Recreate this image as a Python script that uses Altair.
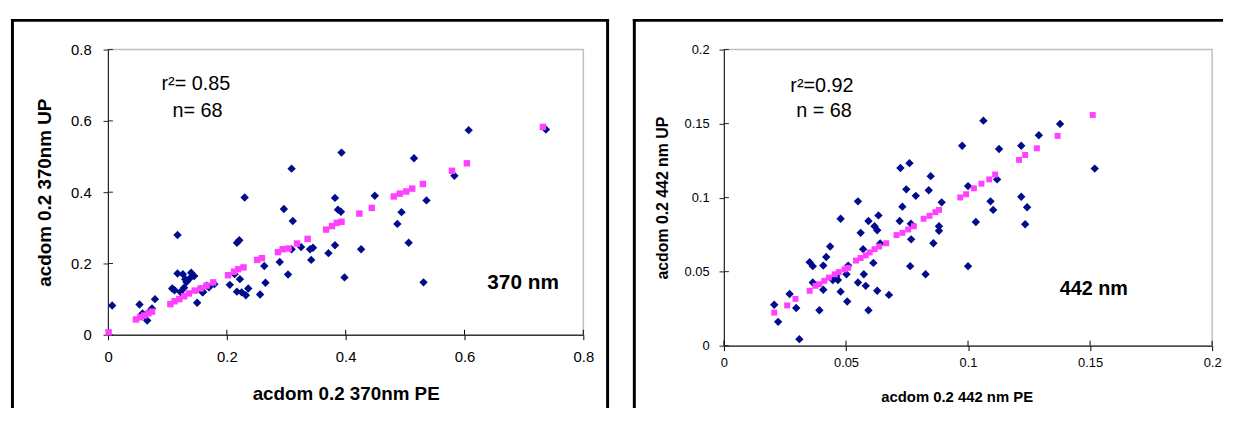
import altair as alt
import pandas as pd

FONT = "Liberation Sans, Arial, sans-serif"

# ---------------- 370 nm panel ----------------
pe370_obs = [0.007, 0.053, 0.061, 0.066, 0.074, 0.079, 0.108, 0.117, 0.117, 0.126,
             0.140, 0.137, 0.132, 0.122, 0.130, 0.150, 0.159, 0.166, 0.179, 0.205,
             0.217, 0.221, 0.222, 0.217, 0.225, 0.230, 0.232, 0.236, 0.256, 0.263,
             0.265, 0.289, 0.296, 0.303, 0.309, 0.311, 0.309, 0.325, 0.340, 0.342,
             0.371, 0.382, 0.382, 0.387, 0.392, 0.393, 0.398, 0.426, 0.449, 0.487,
             0.494, 0.506, 0.515, 0.531, 0.536, 0.583, 0.607, 0.737,
             0.112, 0.145, 0.155, 0.170, 0.160, 0.128, 0.070, 0.058, 0.213, 0.345]
up370_obs = [0.082, 0.085, 0.054, 0.040, 0.074, 0.100, 0.130, 0.280, 0.172, 0.170,
             0.174, 0.157, 0.148, 0.120, 0.156, 0.090, 0.119, 0.138, 0.142, 0.140,
             0.258, 0.265, 0.156, 0.121, 0.119, 0.385, 0.111, 0.130, 0.113, 0.193,
             0.146, 0.204, 0.353, 0.169, 0.466, 0.319, 0.240, 0.246, 0.240, 0.210,
             0.229, 0.384, 0.251, 0.351, 0.345, 0.511, 0.161, 0.240, 0.390, 0.311,
             0.344, 0.258, 0.495, 0.147, 0.377, 0.446, 0.574, 0.576,
             0.125, 0.165, 0.128, 0.133, 0.120, 0.132, 0.065, 0.060, 0.170, 0.244]
pe370_fit = [0.001, 0.047, 0.054, 0.061, 0.068, 0.074, 0.105, 0.112, 0.120, 0.128,
             0.136, 0.146, 0.156, 0.166, 0.177, 0.202, 0.212, 0.219, 0.228, 0.251,
             0.259, 0.286, 0.294, 0.304, 0.318, 0.336, 0.367, 0.377, 0.385, 0.393,
             0.423, 0.444, 0.481, 0.491, 0.502, 0.512, 0.530, 0.579, 0.604, 0.732]
up370_fit = [0.007, 0.043, 0.049, 0.054, 0.060, 0.065, 0.086, 0.094, 0.100, 0.108,
             0.116, 0.124, 0.130, 0.138, 0.147, 0.167, 0.177, 0.184, 0.189, 0.210,
             0.215, 0.232, 0.240, 0.242, 0.256, 0.269, 0.295, 0.305, 0.314, 0.317,
             0.340, 0.356, 0.388, 0.396, 0.402, 0.410, 0.423, 0.460, 0.481, 0.583]
ticks370 = [0, 0.2, 0.4, 0.6, 0.8]

# ---------------- 442 nm panel ----------------
pe442_obs = [0.0206, 0.0222, 0.0269, 0.0296, 0.0309, 0.0351, 0.0364, 0.0364, 0.0391, 0.0407,
             0.0407, 0.0419, 0.0435, 0.0446, 0.0467, 0.0478, 0.0478, 0.0502, 0.0505, 0.0509,
             0.0549, 0.0549, 0.0560, 0.0570, 0.0573, 0.0581, 0.0592, 0.0592, 0.0612, 0.0617,
             0.0628, 0.0628, 0.0633, 0.0676, 0.0720, 0.0723, 0.0731, 0.0747, 0.0760, 0.0763,
             0.0766, 0.0767, 0.0786, 0.0826, 0.0839, 0.0847, 0.0858, 0.0881, 0.0881, 0.0892,
             0.0976, 0.1000, 0.1000, 0.1032, 0.1063, 0.1092, 0.1103, 0.1119, 0.1127, 0.1218,
             0.1218, 0.1234, 0.1242, 0.1290, 0.1377, 0.1519, 0.0640, 0.0460]
up442_obs = [0.0276, 0.0161, 0.0349, 0.0254, 0.0044, 0.0564, 0.0537, 0.0427, 0.0239, 0.0541,
             0.0378, 0.0599, 0.0670, 0.0444, 0.0444, 0.0857, 0.0365, 0.0482, 0.0298, 0.0541,
             0.0975, 0.0427, 0.0762, 0.0652, 0.0482, 0.0404, 0.0239, 0.0842, 0.0559, 0.0807,
             0.0371, 0.0780, 0.0880, 0.0343, 0.0842, 0.1200, 0.0939, 0.1056, 0.1233, 0.0537,
             0.0824, 0.0718, 0.1012, 0.0482, 0.1050, 0.1145, 0.0692, 0.0807, 0.0776, 0.0968,
             0.1350, 0.0537, 0.1078, 0.0835, 0.1520, 0.0975, 0.0917, 0.1123, 0.1328, 0.1006,
             0.1350, 0.0820, 0.0935, 0.1421, 0.1498, 0.1196, 0.0690, 0.0470]
pe442_fit = [0.0206, 0.0259, 0.0293, 0.0351, 0.0375, 0.0391, 0.0411, 0.0430, 0.0454, 0.0470,
             0.0494, 0.0509, 0.0541, 0.0560, 0.0581, 0.0597, 0.0617, 0.0636, 0.0665, 0.0707,
             0.0731, 0.0755, 0.0778, 0.0818, 0.0842, 0.0866, 0.0881, 0.0968, 0.0992, 0.1024,
             0.1055, 0.1087, 0.1111, 0.1209, 0.1234, 0.1282, 0.1367, 0.1511]
up442_fit = [0.0223, 0.0272, 0.0316, 0.0371, 0.0404, 0.0415, 0.0438, 0.0460, 0.0482, 0.0497,
             0.0515, 0.0526, 0.0575, 0.0592, 0.0610, 0.0630, 0.0652, 0.0670, 0.0692, 0.0747,
             0.0762, 0.0785, 0.0807, 0.0857, 0.0877, 0.0902, 0.0917, 0.1001, 0.1023, 0.1063,
             0.1094, 0.1123, 0.1156, 0.1255, 0.1288, 0.1333, 0.1417, 0.1558]
ticks442 = [0, 0.05, 0.1, 0.15, 0.2]

BLUE = "#000C8C"
PINK = "#FF40FF"


def panel(obs_x, obs_y, fit_x, fit_y, ticks, W, H, xtitle, ytitle, lab_fs, xt_fs, yt_fs,
          x_lpad, y_lpad, x_tpad, y_tpad, frame, texts, xtitle_x=None, pink_size=40):
    dom = [ticks[0], ticks[-1]]
    xs = alt.Scale(domain=dom, nice=False, zero=False)
    ys = alt.Scale(domain=dom, nice=False, zero=False)
    xaxis_kw = dict(title=xtitle, values=ticks, format="~g", grid=False, domainColor="black",
                    domainWidth=1, tickColor="black", tickSize=5, tickWidth=1,
                    labelFont=FONT, labelFontSize=lab_fs, labelColor="black",
                    labelPadding=x_lpad, labelFlush=False, labelOverlap=False,
                    titleFont=FONT, titleFontSize=xt_fs, titleFontWeight="bold",
                    titleColor="black", titlePadding=x_tpad)
    if xtitle_x is not None:
        xaxis_kw["titleX"] = xtitle_x
    xaxis = alt.Axis(**xaxis_kw)
    yaxis = alt.Axis(title=ytitle, values=ticks, format="~g", grid=False, domainColor="#222222",
                     domainWidth=1, tickColor="#222222", tickSize=5, tickWidth=1,
                     labelFont=FONT, labelFontSize=lab_fs, labelColor="black",
                     labelPadding=y_lpad, labelFlush=False, labelOverlap=False,
                     titleFont=FONT, titleFontSize=yt_fs, titleFontWeight="bold",
                     titleColor="black", titlePadding=y_tpad)
    X = lambda: alt.X("x:Q", scale=xs, axis=xaxis)
    Y = lambda: alt.Y("y:Q", scale=ys, axis=yaxis)

    obs = pd.DataFrame({"x": obs_x, "y": obs_y})
    fit = pd.DataFrame({"x": fit_x, "y": fit_y})
    one = pd.DataFrame({"k": [0]})

    layers = []
    # outer frame (decoration): left, top, right(optional)
    fl, ft, fr, fbot, ftop_end = frame
    layers.append(alt.Chart(one).mark_rule(color="black", strokeWidth=3).encode(
        x=alt.value(fl - 1.5), x2=alt.value(ftop_end),
        y=alt.value(ft), y2=alt.value(ft)))
    layers.append(alt.Chart(one).mark_rule(color="black", strokeWidth=3).encode(
        x=alt.value(fl), x2=alt.value(fl), y=alt.value(ft - 1.5), y2=alt.value(fbot)))
    if fr is not None:
        layers.append(alt.Chart(one).mark_rule(color="black", strokeWidth=3).encode(
            x=alt.value(fr), x2=alt.value(fr), y=alt.value(ft - 1.5), y2=alt.value(fbot)))
    # inner halves of crossing ticks
    tx = pd.DataFrame({"x": ticks})
    ty = pd.DataFrame({"y": ticks})
    layers.append(alt.Chart(tx).mark_rule(color="black", strokeWidth=1).encode(
        x=X(), y=alt.value(H - 5), y2=alt.value(H)))
    layers.append(alt.Chart(ty).mark_rule(color="#222222", strokeWidth=1).encode(
        y=Y(), x=alt.value(0), x2=alt.value(5)))
    # data
    layers.append(alt.Chart(obs).mark_point(shape="diamond", filled=True, size=72,
                                            color=BLUE, opacity=1).encode(x=X(), y=Y()))
    layers.append(alt.Chart(fit).mark_point(shape="square", filled=True, size=pink_size,
                                            color=PINK, opacity=1).encode(x=X(), y=Y()))
    # annotations
    for txt, px, py, fs, fw in texts:
        layers.append(alt.Chart(one).mark_text(text=txt, font=FONT, fontSize=fs, fontWeight=fw,
                                               color="black", align="left", baseline="middle").encode(
            x=alt.value(px), y=alt.value(py)))
    return alt.layer(*layers).properties(width=W, height=H)


# plot areas: left panel x 106..586, y 45..333 ; right panel x 722..1215, y 45..344
left = panel(pe370_obs, up370_obs, pe370_fit, up370_fit, ticks370, 480, 288,
             "acdom 0.2 370nm PE", "acdom 0.2 370nm UP", 15, 19, 19,
             10, 12, 20, 16,
             frame=(-96.5, -29.5, 504.5, 362, 506),
             texts=[("r\u00b2= 0.85", 54, 35, 20, "normal"),
                    ("n= 68", 65, 62, 20, "normal"),
                    ("370 nm", 383, 236, 21, "bold")],
             pink_size=42)

right = panel(pe442_obs, up442_obs, pe442_fit, up442_fit, ticks442, 493, 299,
              "acdom 0.2 442 nm PE", "acdom 0.2 442 nm UP", 13, 15, 16,
              6, 10, 20, 14,
              frame=(-90.5, -29.5, None, 362, 504),
              texts=[("r\u00b2=0.92", 67, 37, 20, "normal"),
                     ("n = 68", 73, 62, 20, "normal"),
                     ("442 nm", 339, 242, 20, "bold")],
              xtitle_x=235, pink_size=36)

chart = alt.hconcat(left, right, spacing=18).properties(
    padding={"left": 0, "top": 6, "right": 0, "bottom": 0},
    background="white",
).configure_view(stroke="#c0c0c0", strokeWidth=1.5)

chart.save("out.html", embed_options={"renderer": "svg", "actions": False})
